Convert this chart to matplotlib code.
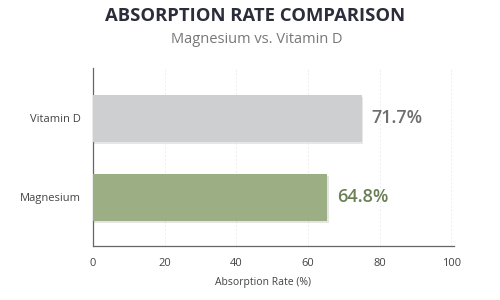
import matplotlib
matplotlib.use("Agg")
import matplotlib.pyplot as plt
import matplotlib.patheffects as pe

# data
categories = ["Magnesium", "Vitamin D"]
bar_lengths = [65.4, 75.0]
value_labels = ["64.8%", "71.7%"]
bar_colors = ["#9caf84", "#cdcfd1"]
label_colors = ["#6b7f55", "#6e6e6e"]
x_ticks = [0, 20, 40, 60, 80, 100]

plt.rcParams["font.family"] = ["Open Sans", "DejaVu Sans"]

fig = plt.figure(figsize=(5, 3), dpi=100)
ax = fig.add_axes([0.186, 0.18, 0.722, 0.593])

bars = ax.barh(range(len(categories)), bar_lengths, height=0.6, color=bar_colors, zorder=3)
for b in bars:
    b.set_path_effects([pe.SimplePatchShadow(offset=(1, -1.5), alpha=0.12), pe.Normal()])

for i, (w, txt) in enumerate(zip(bar_lengths, value_labels)):
    ax.text(w + 2.8, i, txt, va="center", ha="left", fontsize=13, fontweight="semibold",
            color=label_colors[i])

ax.set_xlim(0, 100.8)
ax.set_ylim(-0.62, 1.64)
ax.set_xticks(x_ticks)
ax.set_yticks(range(len(categories)))
ax.set_yticklabels(categories)
ax.tick_params(axis="both", length=0, labelsize=8, colors="#444444", pad=9)
ax.tick_params(axis="x", pad=9)
ax.grid(axis="x", color="#eeeeee", linestyle=(0, (2, 2)), linewidth=0.7, zorder=0)
for s in ["top", "right"]:
    ax.spines[s].set_visible(False)
for s in ["left", "bottom"]:
    ax.spines[s].set_color("#666666")
    ax.spines[s].set_linewidth(0.9)

ax.set_xlabel("Absorption Rate (%)", fontsize=7.5, color="#444444")
ax.xaxis.set_label_coords(0.47, -0.175)

fig.text(0.51, 0.948, "ABSORPTION RATE COMPARISON", ha="center", va="center",
         fontsize=13.3, fontweight="bold", color="#2b2d3a")
fig.text(0.513, 0.868, "Magnesium vs. Vitamin D", ha="center", va="center",
         fontsize=10.5, color="#777777")

fig.savefig("out.png", dpi=100, facecolor="white")
